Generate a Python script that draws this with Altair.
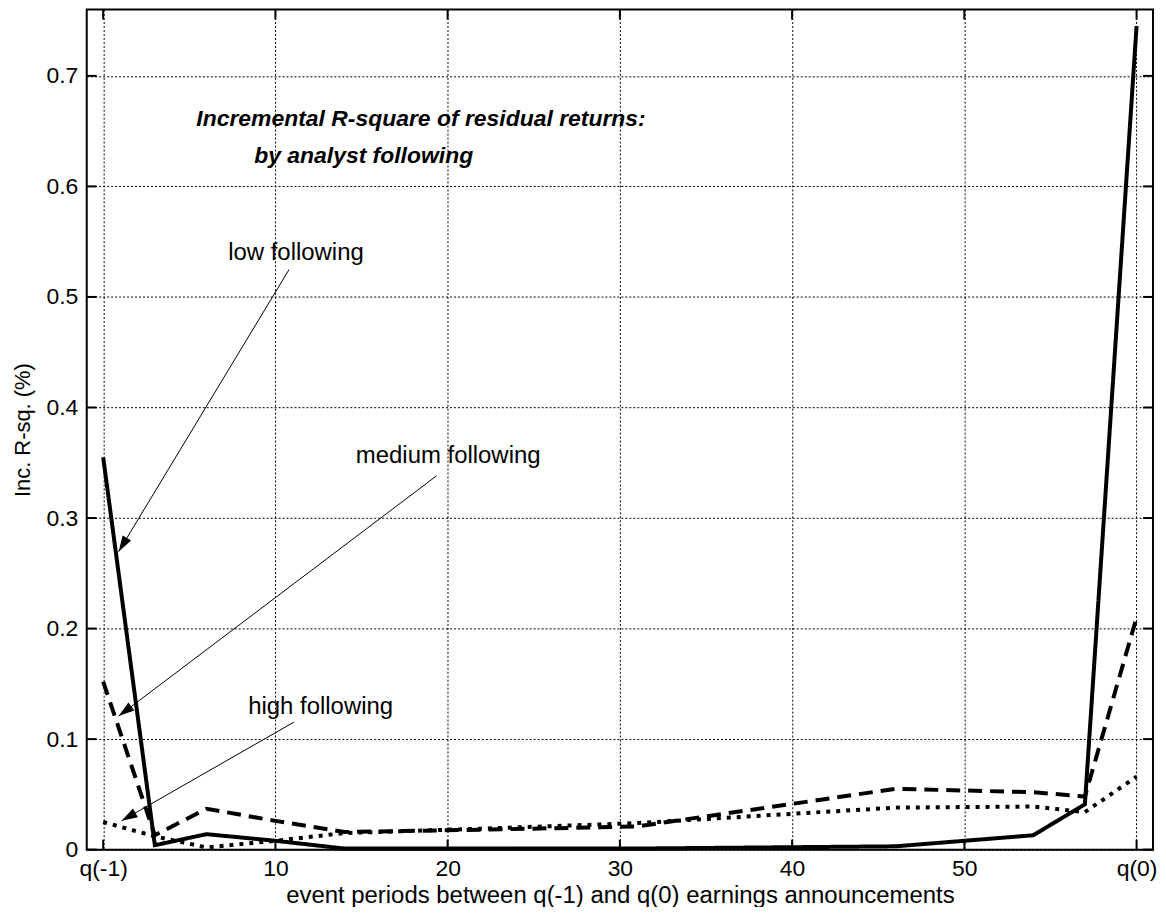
import altair as alt
import pandas as pd

# ---- data ----
x_periods = [0, 3, 6, 10, 14, 22, 31, 46, 54, 57, 60]
low_following = [0.355, 0.004, 0.014, 0.008, 0.001, 0.001, 0.001, 0.003, 0.013, 0.041, 0.745]
medium_following = [0.152, 0.013, 0.037, 0.026, 0.016, 0.018, 0.021, 0.055, 0.052, 0.048, 0.210]
high_following = [0.025, 0.012, 0.002, 0.008, 0.015, 0.019, 0.024, 0.038, 0.039, 0.034, 0.066]
series_names = ["low following", "medium following", "high following"]

x_ticks = [0, 10, 20, 30, 40, 50, 60]
x_tick_labels = ["q(-1)", "10", "20", "30", "40", "50", "q(0)"]
y_ticks = [0, 0.1, 0.2, 0.3, 0.4, 0.5, 0.6, 0.7]

title_lines = ["Incremental R-square of residual returns:", "by analyst following"]

# annotation placement (data units)
label_x = [7.26, 14.67, 8.42]
label_y = [0.5337, 0.3498, 0.1226]
arrow_x_start = [10.79, 19.35, 11.08]
arrow_y_start = [0.5247, 0.3381, 0.1154]
arrow_x_end = [0.897, 0.897, 1.07]
arrow_y_end = [0.2696, 0.1208, 0.0261]
arrow_angle = [211.1, 232.9, 240.2]
title_x = [5.41, 8.77]
title_y = [0.6545, 0.6212]

FONT = "Liberation Sans"
W, H = 1070, 843
X_DOMAIN = [-0.955, 60.955]
Y_DOMAIN = [0, 0.76]

rows = []
for name, vals in zip(series_names, [low_following, medium_following, high_following]):
    for xv, yv in zip(x_periods, vals):
        rows.append({"x": xv, "y": yv, "series": name})
df = pd.DataFrame(rows)

label_map = " : ".join(
    f"datum.value == {v} ? '{l}'" for v, l in zip(x_ticks, x_tick_labels)
) + " : datum.label"

xscale = alt.Scale(domain=X_DOMAIN, nice=False, zero=False)
yscale = alt.Scale(domain=Y_DOMAIN, nice=False, zero=False)

x_axis = alt.Axis(
    values=x_ticks, labelExpr=label_map, grid=True, gridDash=[2, 2], gridColor="black",
    gridWidth=1, gridOpacity=1, ticks=False, domain=False, labelFont=FONT, labelFontSize=23,
    labelColor="black", labelPadding=8, title="event periods between q(-1) and q(0) earnings announcements",
    titleFont=FONT, titleFontSize=24, titleFontWeight="normal", titleColor="black", titlePadding=3,
)
y_axis = alt.Axis(
    values=y_ticks, format="~g", grid=True, gridDash=[2, 2], gridColor="black", gridWidth=1,
    gridOpacity=1, ticks=False, domain=False, labelFont=FONT, labelFontSize=23, labelColor="black",
    labelPadding=9, title="Inc. R-sq. (%)", titleFont=FONT, titleFontSize=22,
    titleFontWeight="normal", titleColor="black", titlePadding=11,
)

lines = alt.Chart(df).mark_line(color="black", strokeWidth=4, strokeCap="butt").encode(
    x=alt.X("x:Q", scale=xscale, axis=x_axis),
    y=alt.Y("y:Q", scale=yscale, axis=y_axis),
    strokeDash=alt.StrokeDash(
        "series:N",
        scale=alt.Scale(domain=series_names, range=[[1, 0], [14, 8], [4, 6]]),
        legend=None,
    ),
    detail="series:N",
)

xt = pd.DataFrame({"x": x_ticks})
yt = pd.DataFrame({"y": y_ticks})
tick_x_bottom = alt.Chart(xt).mark_rule(color="black", strokeWidth=2).encode(
    x=alt.X("x:Q", scale=xscale), y=alt.value(H), y2=alt.value(H - 10))
tick_x_top = alt.Chart(xt).mark_rule(color="black", strokeWidth=2).encode(
    x=alt.X("x:Q", scale=xscale), y=alt.value(0), y2=alt.value(10))
tick_y_left = alt.Chart(yt).mark_rule(color="black", strokeWidth=2).encode(
    y=alt.Y("y:Q", scale=yscale), x=alt.value(0), x2=alt.value(10))
tick_y_right = alt.Chart(yt).mark_rule(color="black", strokeWidth=2).encode(
    y=alt.Y("y:Q", scale=yscale), x=alt.value(W), x2=alt.value(W - 10))

ann = pd.DataFrame({
    "label": series_names, "lx": label_x, "ly": label_y,
    "x0": arrow_x_start, "y0": arrow_y_start, "x1": arrow_x_end, "y1": arrow_y_end,
    "angle": arrow_angle,
})
ann_text = alt.Chart(ann).mark_text(
    align="left", baseline="alphabetic", font=FONT, fontSize=24, color="black"
).encode(x=alt.X("lx:Q", scale=xscale), y=alt.Y("ly:Q", scale=yscale), text="label:N")
ann_rule = alt.Chart(ann).mark_rule(color="black", strokeWidth=1).encode(
    x=alt.X("x0:Q", scale=xscale), y=alt.Y("y0:Q", scale=yscale), x2="x1:Q", y2="y1:Q")
ann_head = alt.Chart(ann).mark_point(
    shape="M0,0 L-0.31,1 L0.31,1 Z", filled=True, size=1024, color="black", opacity=1, strokeWidth=0
).encode(
    x=alt.X("x1:Q", scale=xscale), y=alt.Y("y1:Q", scale=yscale),
    angle=alt.Angle("angle:Q", scale=None),
)

tdf = pd.DataFrame({"t": title_lines, "tx": title_x, "ty": title_y})
title_text = alt.Chart(tdf).mark_text(
    align="left", baseline="alphabetic", font=FONT, fontSize=23, fontWeight="bold",
    fontStyle="italic", color="black"
).encode(x=alt.X("tx:Q", scale=xscale), y=alt.Y("ty:Q", scale=yscale), text="t:N")

chart = alt.layer(
    lines, tick_x_bottom, tick_x_top, tick_y_left, tick_y_right,
    ann_rule, ann_head, ann_text, title_text,
).properties(
    width=W, height=H,
    autosize=alt.AutoSizeParams(type="none"),
    padding={"left": 79, "top": 0, "right": 5, "bottom": 56},
    background="white",
).configure_view(stroke="black", strokeWidth=2)

chart.save("out.html", embed_options={"renderer": "svg", "actions": False})
